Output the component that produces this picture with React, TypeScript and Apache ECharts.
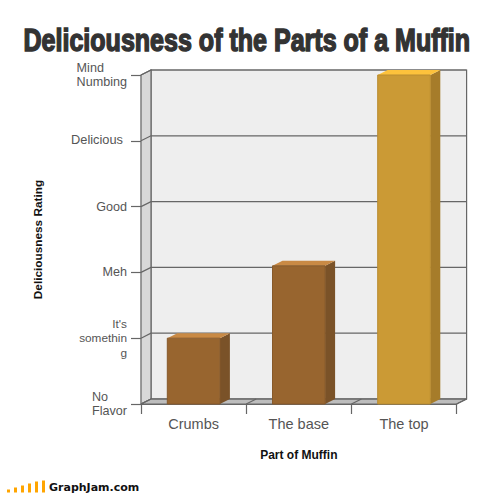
import React, { useEffect, useRef } from "react";
import * as echarts from "echarts";

const categories = ["Crumbs", "The base", "The top"];
const ratings = [1, 2.1, 5];
const yLevels = [0, 1, 2, 3, 4, 5];
const yLabels = [
  "{l|No}\n{l|Flavor}",
  "{s|It's}\n{s|somethin}\n{s|g}",
  "Meh",
  "Good",
  "{d|Delicious}",
  "{l|Mind}\n{l|Numbing}",
];
const logoBars = [3, 5, 7, 9, 11, 12];

const DX = 10;
const DY = -5;
const LINE = "#666666";

const barPalette = [
  { front: "#98652f", side: "#7a5228", top: "#c98a45", edge: "#87592a" },
  { front: "#98652f", side: "#7a5228", top: "#c98a45", edge: "#87592a" },
  { front: "#cb9a35", side: "#a67c2a", top: "#fdc23c", edge: "#b98c30" },
];

function renderFrame(params: any, api: any) {
  const r = params.coordSys;
  const x0 = r.x;
  const x1 = r.x + r.width;
  const yBottom = r.y + r.height;
  const children: any[] = [
    { type: "polygon", shape: { points: [[x0 + DX, r.y + DY], [x1 + DX, r.y + DY], [x1 + DX, yBottom + DY], [x0 + DX, yBottom + DY]] }, style: { fill: "#eeeeee", stroke: LINE, lineWidth: 1.2 } },
    { type: "polygon", shape: { points: [[x0, r.y], [x0 + DX, r.y + DY], [x0 + DX, yBottom + DY], [x0, yBottom]] }, style: { fill: "#d8d8d8", stroke: LINE, lineWidth: 1.2 } },
    { type: "polygon", shape: { points: [[x0, yBottom], [x0 + DX, yBottom + DY], [x1 + DX, yBottom + DY], [x1, yBottom]] }, style: { fill: "#bdbdbd", stroke: LINE, lineWidth: 1.2 } },
  ];
  yLevels.forEach((v) => {
    const y = api.coord([0, v])[1];
    children.push({ type: "polyline", shape: { points: [[x0, y], [x0 + DX, y + DY], [x1 + DX, y + DY]] }, style: { fill: "none", stroke: LINE, lineWidth: 1.2 } });
  });
  const step = r.width / categories.length;
  categories.forEach((_, i) => {
    const x = x0 + step * (i + 1);
    children.push({ type: "line", shape: { x1: x, y1: yBottom, x2: x + DX, y2: yBottom + DY }, style: { stroke: LINE, lineWidth: 1.2 } });
  });
  return { type: "group", children };
}

function renderBar(params: any, api: any) {
  const i = api.value(0);
  const top = api.coord([i, api.value(1)]);
  const base = api.coord([i, 0]);
  const w = api.size([1, 0])[0] * 0.5;
  const l = top[0] - w / 2;
  const r = top[0] + w / 2;
  const c = barPalette[params.dataIndex];
  return {
    type: "group",
    children: [
      { type: "polygon", shape: { points: [[r, top[1]], [r + DX, top[1] + DY], [r + DX, base[1] + DY], [r, base[1]]] }, style: { fill: c.side } },
      { type: "polygon", shape: { points: [[l, top[1]], [l + DX, top[1] + DY], [r + DX, top[1] + DY], [r, top[1]]] }, style: { fill: c.top } },
      { type: "polygon", shape: { points: [[l, top[1]], [r, top[1]], [r, base[1]], [l, base[1]]] }, style: { fill: c.front, stroke: c.edge, lineWidth: 1 } },
    ],
  };
}

export default function App() {
  const ref = useRef<HTMLDivElement>(null);
  useEffect(() => {
    document.body.style.margin = "0";
    const chart = echarts.init(ref.current!, null, { renderer: "svg" });
    chart.setOption({
      animation: false,
      backgroundColor: "#ffffff",
      textStyle: { fontFamily: "Liberation Sans" },
      grid: { left: 141, top: 75, width: 315.6, height: 329, containLabel: false },
      xAxis: {
        type: "category",
        data: categories,
        name: "Part of Muffin",
        nameLocation: "middle",
        nameGap: 45,
        nameTextStyle: { fontSize: 12, fontWeight: "bold", color: "#111111", fontFamily: "Liberation Sans" },
        axisLine: { lineStyle: { color: LINE, width: 1.2 } },
        axisTick: { show: true, length: 10, lineStyle: { color: LINE, width: 1.2 } },
        axisLabel: { fontSize: 14.5, color: "#555555", margin: 12, fontFamily: "Liberation Sans" },
        splitLine: { show: false },
      },
      yAxis: {
        type: "value",
        min: 0,
        max: 5,
        interval: 1,
        name: "Deliciousness Rating",
        nameLocation: "middle",
        nameGap: 97,
        nameTextStyle: { fontSize: 11.8, fontWeight: "bold", color: "#111111", fontFamily: "Liberation Sans" },
        axisLine: { show: true, lineStyle: { color: LINE, width: 1.2 } },
        axisTick: { show: true, length: 10, lineStyle: { color: LINE, width: 1.2 } },
        axisLabel: {
          fontSize: 12.6,
          color: "#555555",
          margin: 14,
          lineHeight: 14.5,
          fontFamily: "Liberation Sans",
          formatter: (v: number) => yLabels[v],
          rich: {
            l: { align: "left", fontSize: 12.6, color: "#555555", lineHeight: 14.5, fontFamily: "Liberation Sans" },
            s: { align: "right", fontSize: 11.8, color: "#555555", lineHeight: 14.5, fontFamily: "Liberation Sans" },
            d: { fontSize: 12.8, color: "#555555", padding: [0, 4, 2, 0], fontFamily: "Liberation Sans" },
          },
        },
        splitLine: { show: false },
      },
      series: [
        { type: "custom", renderItem: renderFrame, data: [[0, 0]], clip: false, silent: true, z: 1 },
        { type: "custom", renderItem: renderBar, data: ratings.map((v, i) => [i, v]), encode: { x: 0, y: 1 }, clip: false, z: 2 },
      ],
      graphic: [
        {
          type: "text",
          x: 23.5,
          y: 24,
          scaleX: 0.808,
          style: {
            text: "Deliciousness of the Parts of a Muffin",
            fontFamily: "Liberation Sans",
            fontWeight: "bold",
            fontSize: 31,
            fill: "#333333",
            stroke: "#333333",
            lineWidth: 1.5,
          },
        },
        ...logoBars.map((h, i) => ({
          type: "rect",
          shape: { x: 7 + i * 7, y: 492.5 - h, width: 3, height: h },
          style: { fill: "#ffa500" },
        })),
        {
          type: "text",
          x: 49,
          y: 482,
          style: { text: "GraphJam.com", fontFamily: "DejaVu Sans", fontWeight: "bold", fontSize: 11, fill: "#111111" },
        },
      ],
    });
    return () => chart.dispose();
  }, []);
  return <div ref={ref} style={{ width: 500, height: 493 }} />;
}
